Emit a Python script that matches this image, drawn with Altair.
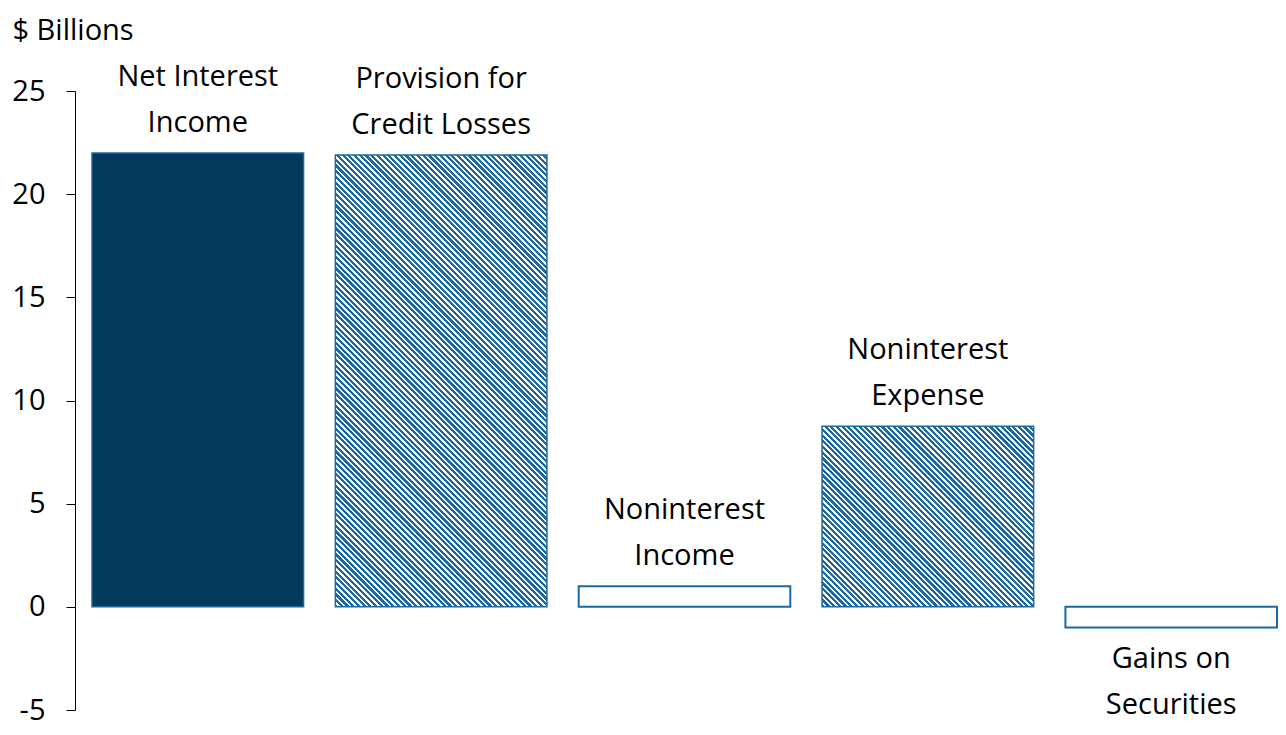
import altair as alt
import pandas as pd

categories = ["Net Interest Income", "Provision for Credit Losses", "Noninterest Income",
              "Noninterest Expense", "Gains on Securities"]
labels = ["Net Interest\nIncome", "Provision for\nCredit Losses", "Noninterest\nIncome",
          "Noninterest\nExpense", "Gains on\nSecurities"]
values = [22.0, 21.9, 1.0, 8.75, -1.0]
styles = ["solid", "hatched", "outline", "hatched", "outline"]
y_ticks = [-5, 0, 5, 10, 15, 20, 25]

df = pd.DataFrame({"cat": categories, "label": labels, "value": values, "style": styles})

W, H = 1203, 619
Y_MIN, Y_MAX = -5, 25
N = len(categories)
PAD_INNER = 32 / 245
LEFT_GAP, RIGHT_GAP = 17, 1
STEP = (W - LEFT_GAP - RIGHT_GAP) / (N - PAD_INNER)
BAND = STEP * (1 - PAD_INNER)
PAD_OUTER = (LEFT_GAP + RIGHT_GAP) / (2 * STEP)
ALIGN = LEFT_GAP / (LEFT_GAP + RIGHT_GAP)

DARK = "#033a5b"
BLUE = "#1a69a2"
FONT = "Open Sans"
FS = 29

xscale = alt.Scale(domain=categories, paddingInner=PAD_INNER, paddingOuter=PAD_OUTER, align=ALIGN)
yscale = alt.Scale(domain=[Y_MIN, Y_MAX], nice=False, zero=False)

x_enc = alt.X("cat:N", scale=xscale, axis=None, sort=categories)
y_enc = alt.Y("value:Q", scale=yscale,
              axis=alt.Axis(values=y_ticks, grid=False, tickSize=9, tickColor="black",
                            domainColor="black", labelFontSize=FS, labelFont=FONT,
                            labelColor="black", labelPadding=21, labelExpr="datum.value",
                            title="$ Billions",
                            titleAngle=0, titleAlign="left", titleBaseline="middle",
                            titleX=-63, titleY=-61, titleFont=FONT, titleFontSize=FS,
                            titleFontWeight="normal", titleColor="black"))


def hatch(value, period=5.7, frac=0.55):
    w = BAND
    h = abs(value) * H / (Y_MAX - Y_MIN)
    L2 = w * w + h * h
    x2 = w * (w + h) / L2
    y2 = 1 - h * (w + h) / L2
    n = int(round((w + h) / period))
    stops = []
    for k in range(n):
        a = k / n
        b = (k + frac) / n
        c = (k + 1) / n
        stops += [{"offset": a, "color": BLUE}, {"offset": b, "color": BLUE},
                  {"offset": b, "color": "white"}, {"offset": c, "color": "white"}]
    return {"gradient": "linear", "x1": 0, "y1": 1, "x2": x2, "y2": y2, "stops": stops}


base = alt.Chart(df)
layers = []
solid = base.transform_filter(alt.datum.style == "solid").mark_bar(
    fill=DARK, stroke=BLUE, strokeWidth=1.5).encode(x=x_enc, y=y_enc, y2=alt.datum(0))
layers.append(solid)
outline = base.transform_filter(alt.datum.style == "outline").mark_bar(
    fill="white", stroke=BLUE, strokeWidth=2).encode(x=x_enc, y=y_enc, y2=alt.datum(0))
layers.append(outline)
for c, v, s in zip(categories, values, styles):
    if s == "hatched":
        layers.append(base.transform_filter(alt.datum.cat == c).mark_bar(
            fill=hatch(v), stroke=BLUE, strokeWidth=1.5).encode(x=x_enc, y=y_enc, y2=alt.datum(0)))

LH = 46
txt_pos = base.transform_filter(alt.datum.value >= 0).mark_text(
    baseline="bottom", dy=-15 - LH, fontSize=FS, font=FONT, color="black",
    lineBreak="\n", lineHeight=LH).encode(x=x_enc, y=y_enc, text="label:N")
txt_neg = base.transform_filter(alt.datum.value < 0).mark_text(
    baseline="top", dy=18, fontSize=FS, font=FONT, color="black",
    lineBreak="\n", lineHeight=LH).encode(x=x_enc, y=y_enc, text="label:N")
layers += [txt_pos, txt_neg]

chart = alt.layer(*layers).properties(
    width=W, height=H,
    background="white",
    autosize=alt.AutoSizeParams(type="none"),
    padding={"left": 67, "top": 83, "right": 0, "bottom": 18},
).configure_view(stroke=None)

chart.save("out.html", embed_options={"renderer": "svg", "actions": False})
